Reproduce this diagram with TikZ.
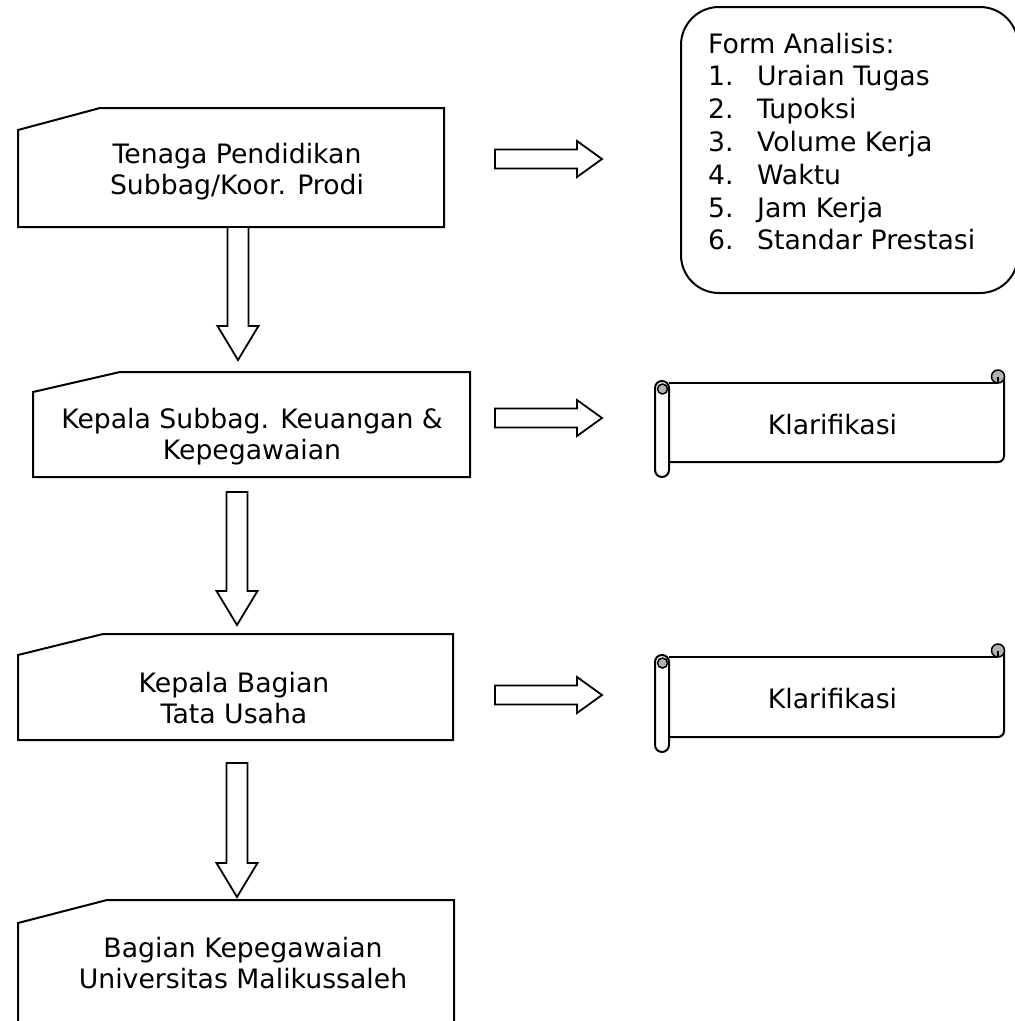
\documentclass[tikz,border=0pt]{standalone}
\usepackage{fontspec}
\setmainfont{DejaVu Sans}
\usetikzlibrary{calc}
\tikzset{
  outline/.style={draw=black, line width=2pt, line join=miter},
  shapenode/.style={draw=none, inner sep=0pt, outer sep=0pt},
  txt/.style={inner sep=0pt, align=center, font=\fontsize{26.7}{31}\selectfont},
  listtxt/.style={inner sep=0pt, align=left, font=\fontsize{26.7}{32.8}\selectfont},
  blockarrow/.style={draw=black, line width=1.8pt, fill=white, line join=miter},
  curl/.style={draw=black, line width=1.5pt, fill=gray!60},
}
\newcommand\miboxoutline[3]{%
  \draw[outline] let \p1=(#1.north west), \p2=(#1.south east) in
    (\x1,\y2) -- (\x1,\y1-#3) -- (\x1+#2,\y1) -- (\x2,\y1) -- (\x2,\y2) -- cycle;}
\newcommand\blockdown[2]{%
  \draw[blockarrow] let \p1=#1, \p2=#2 in
    (\x1-10.5pt,\y1) -- (\x1-10.5pt,\y2+34pt) -- (\x1-20.5pt,\y2+34pt) -- (\x1,\y2)
    -- (\x1+20.5pt,\y2+34pt) -- (\x1+10.5pt,\y2+34pt) -- (\x1+10.5pt,\y1) -- cycle;}
\newcommand\blockright[2]{%
  \draw[blockarrow] let \p1=#1, \p2=#2 in
    (\x1,\y1+9.5pt) -- (\x2-25pt,\y1+9.5pt) -- (\x2-25pt,\y1+18pt) -- (\x2,\y1)
    -- (\x2-25pt,\y1-18pt) -- (\x2-25pt,\y1-9.5pt) -- (\x1,\y1-9.5pt) -- cycle;}
\newcommand\scrolloutline[1]{%
  \draw[outline] let \p1=(#1.north west), \p2=(#1.south east) in
    (\x1,\y1) -- (\x2-6pt,\y1);
  \draw[outline, rounded corners=6pt] let \p1=(#1.north west), \p2=(#1.south east) in
    (\x2,\y1+6pt) -- (\x2,\y2) -- (\x1,\y2);
  \draw[curl] let \p1=(#1.north east) in (\x1-6pt,\y1+6.5pt) circle[radius=6.5pt];
  \draw[line width=1.4pt] let \p1=(#1.north east) in (\x1-6pt,\y1+6pt) -- (\x1-6pt,\y1);
  \draw[outline, fill=white, rounded corners=7pt] let \p1=(#1.north west), \p2=(#1.south east) in
    (\x1-14pt,\y1+2pt) rectangle (\x1,\y2-15pt);
  \draw[curl] let \p1=(#1.north west) in (\x1-6.5pt,\y1-6pt) circle[radius=5pt];}

\begin{document}
\begin{tikzpicture}[x=1pt,y=-1pt]
\useasboundingbox (0,0) rectangle (1015,1021);
\clip (0,0) rectangle (1015,1021);
\fill[white] (0,0) rectangle (1015,1021);

% process boxes (manual input shape)
\node[shapenode, minimum width=426pt, minimum height=119pt] (b1) at (231,167.5) {};
\node[shapenode, minimum width=437pt, minimum height=105pt] (b2) at (251.5,424.5) {};
\node[shapenode, minimum width=435pt, minimum height=106pt] (b3) at (235.5,687) {};
\node[shapenode, minimum width=436pt, minimum height=130pt] (b4) at (236,965) {};
\miboxoutline{b1}{82pt}{22pt}
\miboxoutline{b2}{87pt}{20pt}
\miboxoutline{b3}{85pt}{21pt}
\miboxoutline{b4}{89pt}{23pt}

\node[txt, anchor=north] (t1) at (237,141.3) {\strut Tenaga Pendidikan\\\strut Subbag/Koor. Prodi};
\node[txt, anchor=north] (t2) at (252,406.3) {\strut Kepala Subbag. Keuangan \&\\\strut Kepegawaian};
\node[txt, anchor=north] (t3) at (234,670.3) {\strut Kepala Bagian\\\strut Tata Usaha};
\node[txt, anchor=north] (t4) at (243,935.3) {\strut Bagian Kepegawaian\\\strut Universitas Malikussaleh};

% form box
\node[shapenode, outline, rounded corners=38pt, minimum width=337pt, minimum height=286pt] (form) at (849.5,150) {};
\node[listtxt, anchor=north west] (formtxt) at (708,30) {\strut Form Analisis:\\
\strut\makebox[49pt][l]{1.}Uraian Tugas\\
\strut\makebox[49pt][l]{2.}Tupoksi\\
\strut\makebox[49pt][l]{3.}Volume Kerja\\
\strut\makebox[49pt][l]{4.}Waktu\\
\strut\makebox[49pt][l]{5.}Jam Kerja\\
\strut\makebox[49pt][l]{6.}Standar Prestasi};

% scrolls
\node[shapenode, minimum width=335pt, minimum height=79pt] (k1) at (836.5,422.5) {};
\node[shapenode, minimum width=335pt, minimum height=80pt] (k2) at (836.5,697) {};
\scrolloutline{k1}
\scrolloutline{k2}
\node[txt, anchor=base] (k1t) at (832.5,434) {Klarifikasi};
\node[txt, anchor=base] (k2t) at (832.5,708) {Klarifikasi};

% block arrows down
\blockdown{($(b1.south)+(7,0)$)}{($(b2.north)+(0,-12)$)}
\blockdown{($(b2.south)+(-14.5,15)$)}{($(b3.north)+(0,-9)$)}
\blockdown{($(b3.south)+(1.5,23)$)}{($(b4.north)+(0,-3)$)}

% block arrows right
\blockright{($(b1.east)+(51,-8.5)$)}{($(form.west)+(-79,0)$)}
\blockright{($(b2.east)+(25,-6.5)$)}{($(k1.west)+(-67,0)$)}
\blockright{($(b3.east)+(42,8)$)}{($(k2.west)+(-67,0)$)}
\end{tikzpicture}
\end{document}
